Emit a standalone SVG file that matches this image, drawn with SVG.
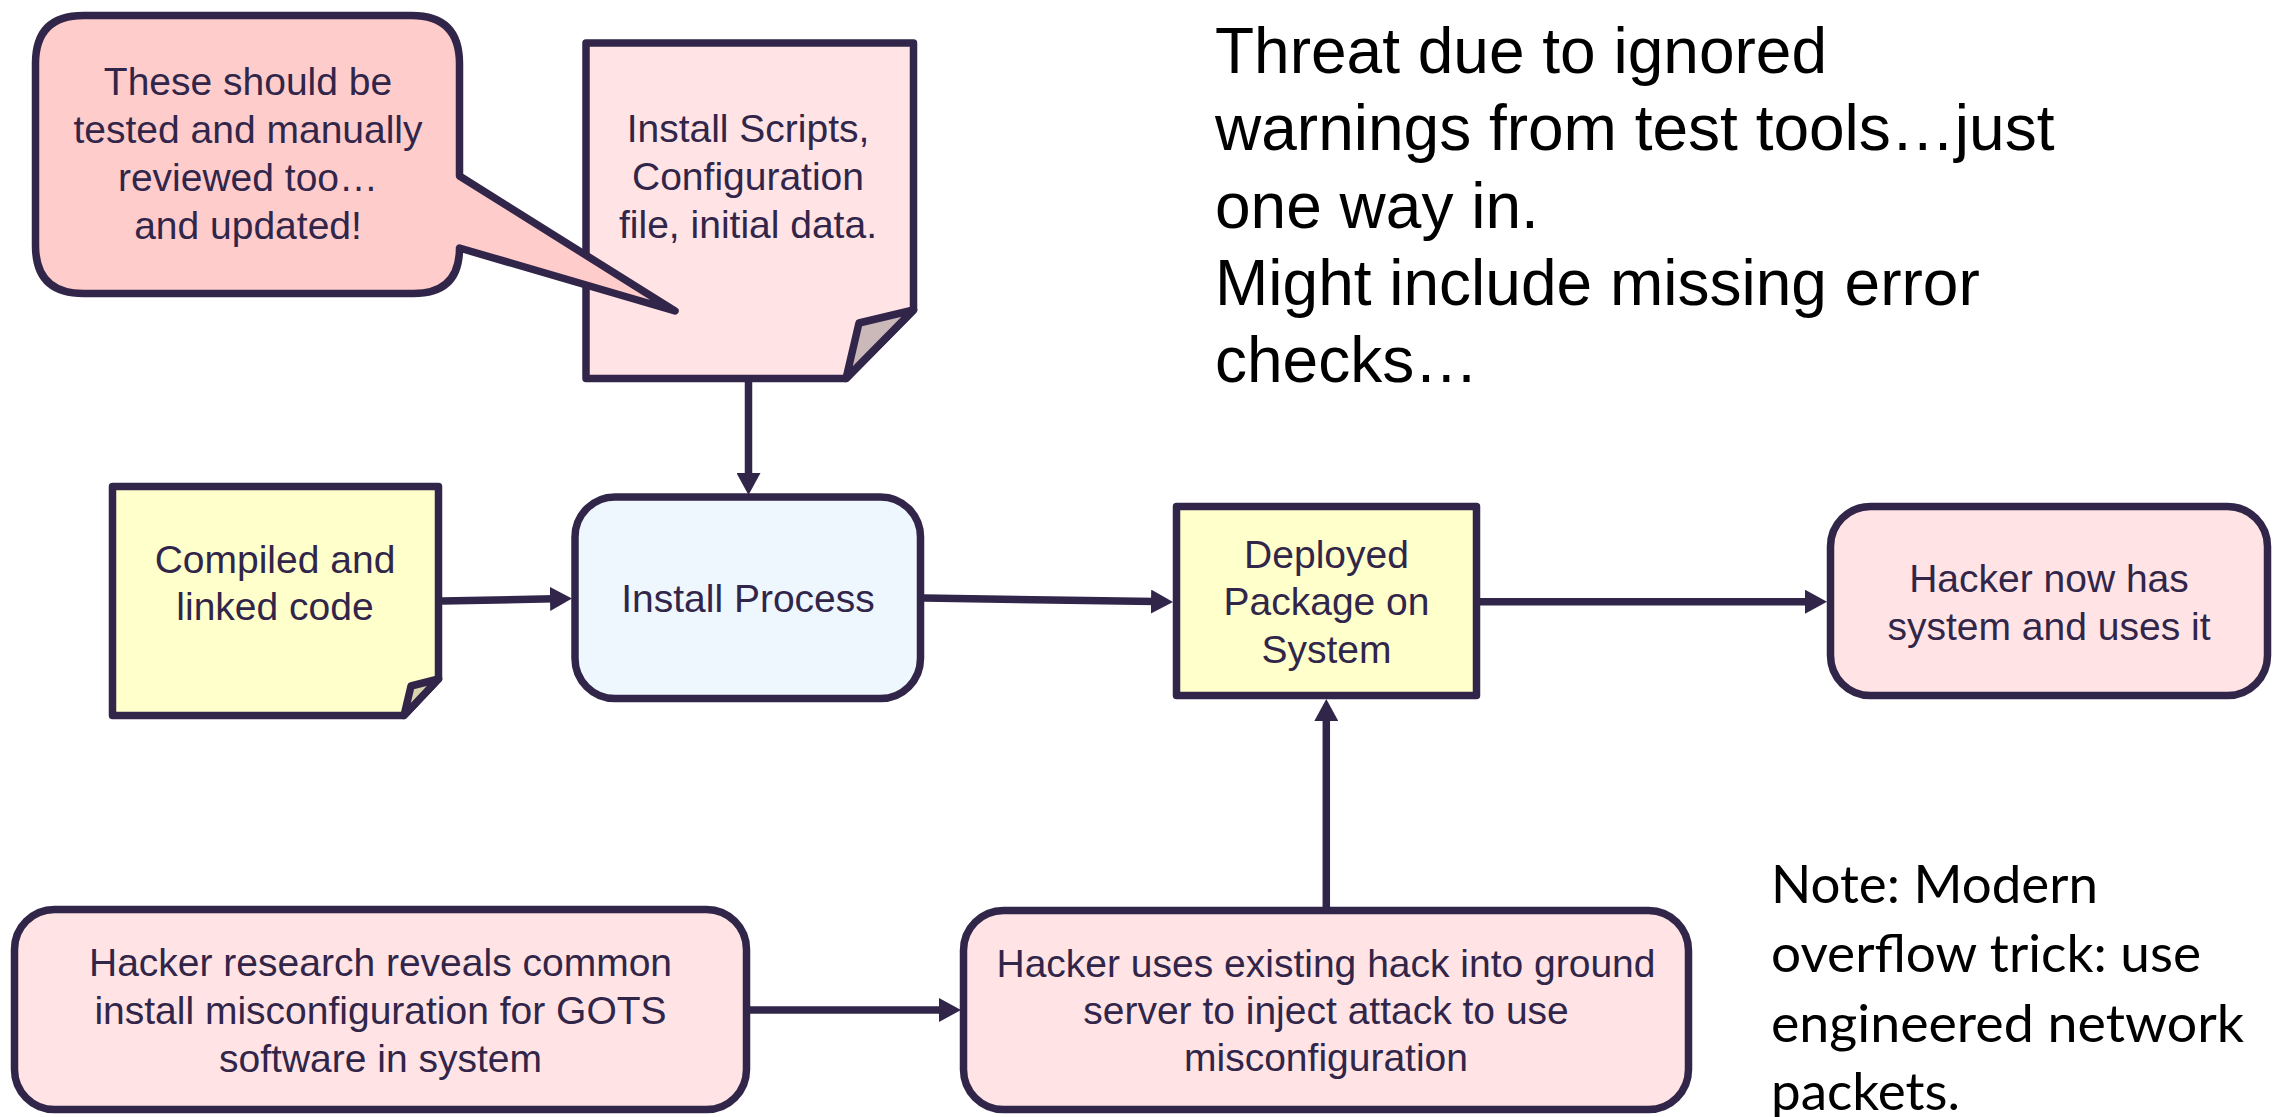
<svg xmlns="http://www.w3.org/2000/svg" width="2280" height="1117" viewBox="0 0 2280 1117">
  <style>
    .shape { stroke: #312649; stroke-width: 7.5; stroke-linejoin: round; }
    .pink { fill: #FFE3E5; }
    .callout { fill: #FFCCCC; }
    .yellow { fill: #FFFFCC; }
    .blue { fill: #EEF6FE; }
    .label { font-family: "Liberation Sans", Arial, sans-serif; font-size: 39px; fill: #312649; text-anchor: middle; }
    .big { font-family: "Liberation Sans", Arial, sans-serif; font-size: 64px; fill: #000000; }
    .note { font-family: Lato, "Open Sans", sans-serif; font-size: 53px; fill: #000000; }
    .edge { stroke: #312649; stroke-width: 7.5; fill: none; marker-end: url(#arrow); }
  </style>
  <defs>
    <marker id="arrow" markerUnits="userSpaceOnUse" markerWidth="22" markerHeight="24" refX="4" refY="12" orient="auto">
      <path d="M0,0 L22,12 L0,24 Z" fill="#312649"/>
    </marker>
  </defs>

  <rect width="2280" height="1117" fill="#FFFFFF"/>

  <!-- free text, top right -->
  <g id="threat-notes">
    <text class="big" x="1215" y="73">Threat due to ignored</text>
    <text class="big" x="1215" y="150">warnings from test tools…just</text>
    <text class="big" x="1215" y="228">one way in.</text>
    <text class="big" x="1215" y="305">Might include missing error</text>
    <text class="big" x="1215" y="382">checks…</text>
  </g>

  <!-- free text, bottom right -->
  <g id="overflow-note">
    <text class="note" x="1771" y="903" textLength="327" lengthAdjust="spacingAndGlyphs">Note: Modern</text>
    <text class="note" x="1771" y="972" textLength="430" lengthAdjust="spacingAndGlyphs">overflow trick: use</text>
    <text class="note" x="1771" y="1042" textLength="473" lengthAdjust="spacingAndGlyphs">engineered network</text>
    <text class="note" x="1771" y="1110" textLength="189" lengthAdjust="spacingAndGlyphs">packets.</text>
  </g>

  <!-- connectors -->
  <g id="connectors">
    <line class="edge" x1="748.5" y1="382" x2="748.5" y2="477"/>
    <line class="edge" x1="442" y1="601" x2="554" y2="598.8"/>
    <line class="edge" x1="924" y1="598" x2="1155" y2="601.6"/>
    <line class="edge" x1="1480" y1="601.7" x2="1809" y2="601.7"/>
    <line class="edge" x1="750" y1="1010" x2="943" y2="1010"/>
    <line class="edge" x1="1326.3" y1="907" x2="1326.3" y2="717"/>
  </g>

  <!-- document: install scripts -->
  <g id="install-scripts">
    <path class="shape pink" d="M586,43 H913.5 V310 L846,378.5 H586 Z"/>
    <path class="shape" fill="#CBB9BA" d="M913.5,310 L859,323 L846,378.5 Z"/>
    <text class="label" x="748" y="142">Install Scripts,</text>
    <text class="label" x="748" y="190">Configuration</text>
    <text class="label" x="748" y="238">file, initial data.</text>
  </g>

  <!-- speech bubble, its tail lies over the document -->
  <g id="review-callout">
    <path class="shape callout" d="M83.5,15.5 H411.5 Q459.5,15.5 459.5,63.5 V176 L675,311 L459.5,248 Q459.5,293.5 413.5,293.5 H83.5 Q35.5,293.5 35.5,245.5 V63.5 Q35.5,15.5 83.5,15.5 Z"/>
    <text class="label" x="248" y="95">These should be</text>
    <text class="label" x="248" y="143">tested and manually</text>
    <text class="label" x="248" y="191">reviewed too…</text>
    <text class="label" x="248" y="239">and updated!</text>
  </g>

  <!-- document: compiled code -->
  <g id="compiled-code">
    <path class="shape yellow" d="M112.5,486.5 H438.5 V679 L404,715.5 H112.5 Z"/>
    <path class="shape" fill="#D8D5AE" d="M438.5,679 L411,686 L404,715.5 Z"/>
    <text class="label" x="275" y="573">Compiled and</text>
    <text class="label" x="275" y="620">linked code</text>
  </g>

  <g id="install-process">
    <rect class="shape blue" x="575" y="497" width="345.5" height="201.5" rx="40" ry="40"/>
    <text class="label" x="748" y="612">Install Process</text>
  </g>

  <g id="deployed-package">
    <rect class="shape yellow" x="1176.5" y="506.5" width="300" height="189"/>
    <text class="label" x="1326.5" y="568">Deployed</text>
    <text class="label" x="1326.5" y="615">Package on</text>
    <text class="label" x="1326.5" y="663">System</text>
  </g>

  <g id="hacker-has-system">
    <rect class="shape pink" x="1830.5" y="506.5" width="437" height="189" rx="40" ry="40"/>
    <text class="label" x="2049" y="592">Hacker now has</text>
    <text class="label" x="2049" y="640">system and uses it</text>
  </g>

  <g id="hacker-research">
    <rect class="shape pink" x="14.5" y="909.5" width="732" height="200" rx="40" ry="40"/>
    <text class="label" x="380.5" y="976">Hacker research reveals common</text>
    <text class="label" x="380.5" y="1024">install misconfiguration for GOTS</text>
    <text class="label" x="380.5" y="1072">software in system</text>
  </g>

  <g id="hacker-injects">
    <rect class="shape pink" x="963.5" y="910.5" width="725" height="199" rx="40" ry="40"/>
    <text class="label" x="1326" y="977">Hacker uses existing hack into ground</text>
    <text class="label" x="1326" y="1024">server to inject attack to use</text>
    <text class="label" x="1326" y="1071">misconfiguration</text>
  </g>
</svg>
